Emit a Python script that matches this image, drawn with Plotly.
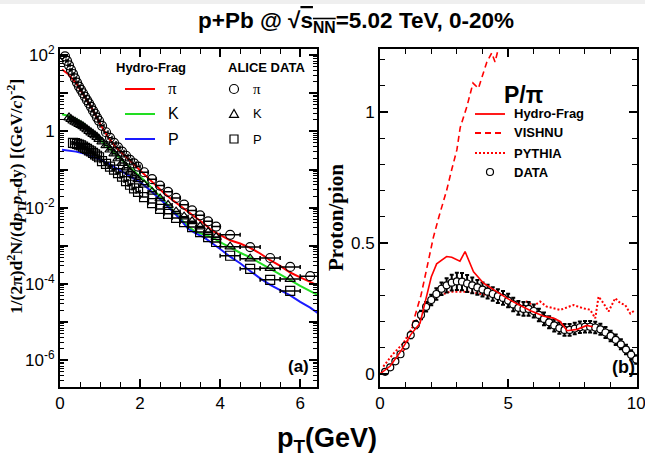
import plotly.graph_objects as go

W, H = 645, 462
SANS = "Liberation Sans, Arial, sans-serif"
SERIF = "Liberation Serif, Times New Roman, serif"

# ---------------- panel (a): identified-particle spectra ----------------
# ALICE bin centres and half widths (GeV)
pt_bins = [0.125, 0.175, 0.225, 0.275, 0.325, 0.375, 0.425, 0.475, 0.525, 0.575,
           0.625, 0.675, 0.725, 0.775, 0.825, 0.875, 0.925, 0.975,
           1.05, 1.15, 1.25, 1.35, 1.45, 1.55, 1.65, 1.75, 1.85, 1.95,
           2.1, 2.3, 2.5, 2.7, 2.9, 3.1, 3.3, 3.5, 3.7, 3.9,
           4.25, 4.75, 5.25, 5.75, 6.25]
pt_half = [0.025] * 18 + [0.05] * 10 + [0.1] * 10 + [0.25] * 5

pion_data = [93, 71, 54, 41, 32, 24.5, 19, 15, 12.3, 10,
             8.1, 6.6, 5.4, 4.4, 3.5, 2.9, 2.3, 1.9,
             1.4, 0.95, 0.68, 0.50, 0.38, 0.295, 0.23, 0.18, 0.145, 0.12,
             0.085, 0.056, 0.038, 0.026, 0.018, 0.012, 0.0085, 0.0063, 0.0044, 0.0032,
             0.00195, 9.3e-4, 4.8e-4, 2.8e-4, 1.6e-4]
kaon_data = [2.3, 2.1, 1.9, 1.78, 1.66, 1.55, 1.45, 1.35, 1.23, 1.12,
             1.02, 0.93, 0.85, 0.78, 0.71, 0.63,
             0.54, 0.43, 0.33, 0.26, 0.195, 0.148, 0.112, 0.087, 0.069, 0.055,
             0.040, 0.026, 0.0174, 0.0117, 0.0079, 0.0058, 0.0044, 0.0032, 0.0023, 0.0017,
             9.5e-4, 4.6e-4, 2.6e-4, 1.35e-4]
proton_data = [0.50, 0.49, 0.47, 0.45, 0.43, 0.40, 0.37, 0.35, 0.32, 0.30,
               0.275, 0.25, 0.23, 0.21,
               0.166, 0.141, 0.12, 0.10, 0.081, 0.065, 0.050, 0.040, 0.032, 0.026,
               0.019, 0.0132, 0.0093, 0.0069, 0.0054, 0.0042, 0.0031, 0.0023, 0.0017, 0.00126,
               5.5e-4, 2.5e-4, 1.29e-4, 6.6e-5]

# Hydro-Frag model curves
model_pt = [0.05, 0.2, 0.4, 0.6, 0.8, 1.0, 1.2, 1.4, 1.6, 1.8, 2.0, 2.2, 2.4, 2.6, 2.8,
            3.0, 3.2, 3.4, 3.6, 3.8, 4.0, 4.25, 4.5, 4.75, 5.0, 5.25, 5.5, 5.75, 6.0, 6.25, 6.45]
model_pion = [42, 32, 18.6, 8.9, 4.0, 1.58, 0.71, 0.38, 0.24, 0.151, 0.095, 0.060, 0.037,
              0.024, 0.0162, 0.0112, 0.0079, 0.0056, 0.0038, 0.0025, 0.0019, 0.0014, 0.00115,
              8.9e-4, 6.3e-4, 4.2e-4, 3.0e-4, 2.0e-4, 1.5e-4, 1.15e-4, 9.1e-5]
model_kaon = [2.82, 2.57, 2.14, 1.58, 0.93, 0.60, 0.39, 0.257, 0.166, 0.105, 0.066, 0.042,
              0.025, 0.0151, 0.0089, 0.0052, 0.0032, 0.0023, 0.0020, 0.0017, 0.00126, 8.9e-4,
              6.6e-4, 5.0e-4, 3.5e-4, 2.5e-4, 1.8e-4, 1.26e-4, 8.9e-5, 6.6e-5, 5.1e-5]
model_proton = [0.33, 0.316, 0.295, 0.263, 0.224, 0.182, 0.145, 0.11, 0.083, 0.063, 0.047,
                0.032, 0.021, 0.0135, 0.0083, 0.005, 0.0028, 0.0021, 0.00166, 0.0012, 8.3e-4,
                5.2e-4, 3.5e-4, 2.2e-4, 1.4e-4, 9.5e-5, 7.0e-5, 5.0e-5, 3.4e-5, 2.4e-5, 1.7e-5]

# ---------------- panel (b): proton / pion ratio ----------------
ratio_pt = [0.2, 0.4, 0.6, 0.8, 1.0, 1.2, 1.4, 1.6, 1.8, 2.0,
            2.2, 2.4, 2.6, 2.8, 3.0, 3.2, 3.4, 3.6, 3.8, 4.0,
            4.2, 4.4, 4.6, 4.8, 5.0, 5.2, 5.4, 5.6, 5.8, 6.0,
            6.2, 6.4, 6.6, 6.8, 7.0, 7.2, 7.4, 7.6, 7.8, 8.0,
            8.2, 8.4, 8.6, 8.8, 9.0, 9.2, 9.4, 9.6, 9.8, 10.0]
ratio_data = [0.008, 0.025, 0.048, 0.075, 0.108, 0.148, 0.188, 0.225, 0.256, 0.282,
              0.305, 0.325, 0.338, 0.348, 0.353, 0.352, 0.345, 0.338, 0.330, 0.322,
              0.314, 0.305, 0.297, 0.290, 0.280, 0.265, 0.252, 0.248, 0.248, 0.240,
              0.225, 0.210, 0.197, 0.185, 0.175, 0.168, 0.168, 0.173, 0.178, 0.180,
              0.180, 0.177, 0.170, 0.158, 0.145, 0.130, 0.113, 0.093, 0.073, 0.055]
ratio_err = [0.004, 0.005, 0.006, 0.008, 0.010, 0.012, 0.014, 0.016, 0.018, 0.020,
             0.022, 0.024, 0.027, 0.030, 0.033, 0.033, 0.032, 0.030, 0.028, 0.027,
             0.026, 0.026, 0.026, 0.026, 0.026, 0.026, 0.026, 0.026, 0.026, 0.025,
             0.024, 0.024, 0.023, 0.023, 0.022, 0.022, 0.022, 0.022, 0.022, 0.022,
             0.022, 0.022, 0.021, 0.021, 0.020, 0.020, 0.019, 0.018, 0.017, 0.016]

hydro_pt = [0.0, 0.4, 0.8, 1.2, 1.56, 1.82, 2.0, 2.21, 2.6, 2.8, 3.12, 3.32, 3.65, 4.04,
            4.56, 4.95, 5.4, 5.9, 6.4, 6.77, 7.03, 7.3, 7.7, 8.07, 8.3]
hydro_ratio = [0.0, 0.03, 0.085, 0.15, 0.193, 0.295, 0.37, 0.42, 0.448, 0.445, 0.43, 0.467,
               0.39, 0.346, 0.314, 0.289, 0.265, 0.24, 0.22, 0.213, 0.20, 0.165, 0.17, 0.185, 0.18]

vishnu_pt = [0.0, 0.5, 1.0, 1.3, 1.6, 1.82, 2.08, 2.3, 2.6, 2.8, 3.0, 3.13, 3.39, 3.63,
             3.84, 4.17, 4.36, 4.49, 4.69]
vishnu_ratio = [0.0, 0.03, 0.1, 0.2, 0.3, 0.4, 0.52, 0.6, 0.70, 0.78, 0.855, 0.94, 1.02,
                1.11, 1.09, 1.19, 1.225, 1.19, 1.27]

pythia_pt = [0.13, 0.5, 0.91, 1.43, 2.21, 2.73, 3.5, 4.43, 5.0, 5.47, 5.73, 6.0, 6.25, 6.5,
             7.03, 7.55, 7.94, 8.2, 8.4, 8.53, 8.72, 8.92, 9.18, 9.38, 9.57, 9.77, 9.96]
pythia_ratio = [0.028, 0.075, 0.117, 0.206, 0.295, 0.314, 0.314, 0.295, 0.28, 0.27, 0.276,
                0.26, 0.276, 0.257, 0.244, 0.263, 0.25, 0.245, 0.212, 0.295, 0.27, 0.238,
                0.289, 0.27, 0.263, 0.23, 0.244]

RED, GREEN, BLUE = "#ff0000", "#22dd22", "#1a1aff"


def px(x, y):
    """Pixel position -> paper coordinates."""
    return x / W, 1 - y / H


fig = go.Figure()

# model curves (panel a)
for ys, col in [(model_pion, RED), (model_kaon, GREEN), (model_proton, BLUE)]:
    fig.add_trace(go.Scatter(x=model_pt, y=ys, mode="lines", line=dict(color=col, width=2),
                             xaxis="x", yaxis="y", showlegend=False, hoverinfo="skip"))

# data points (panel a)
for xs, ys, sym in [(pt_bins, pion_data, "circle-open"),
                    (pt_bins[2:-1], kaon_data, "triangle-up-open"),
                    (pt_bins[4:-1], proton_data, "square-open")]:
    n = len(xs)
    off = pt_bins.index(xs[0])
    fig.add_trace(go.Scatter(
        x=xs, y=ys, mode="markers",
        marker=dict(symbol=sym, size=9, color="black", line=dict(width=1.2, color="black")),
        error_x=dict(type="data", array=pt_half[off:off + n], color="black",
                     thickness=1.5, width=2),
        xaxis="x", yaxis="y", showlegend=False))

# panel b curves
fig.add_trace(go.Scatter(x=vishnu_pt, y=vishnu_ratio, mode="lines",
                         line=dict(color=RED, width=1.6, dash="6px,4px"),
                         xaxis="x2", yaxis="y2", showlegend=False))
fig.add_trace(go.Scatter(x=pythia_pt, y=pythia_ratio, mode="lines",
                         line=dict(color=RED, width=2, dash="2px,2px"),
                         xaxis="x2", yaxis="y2", showlegend=False))
fig.add_trace(go.Scatter(
    x=ratio_pt, y=ratio_data, mode="markers",
    marker=dict(symbol="circle", size=7, color="white", line=dict(width=1.2, color="black")),
    error_y=dict(type="data", array=ratio_err, color="black", thickness=2, width=2),
    xaxis="x2", yaxis="y2", showlegend=False))
fig.add_trace(go.Scatter(x=hydro_pt, y=hydro_ratio, mode="lines",
                         line=dict(color=RED, width=1.6),
                         xaxis="x2", yaxis="y2", showlegend=False))

axis_common = dict(showline=True, linecolor="black", linewidth=2, mirror="allticks",
                   ticks="inside", ticklen=8, tickwidth=1.5, tickcolor="black",
                   showgrid=False, zeroline=False, ticklabeloverflow="allow",
                   automargin=False,
                   tickfont=dict(family=SANS, size=17, color="black"))

ylog_minor = [k * 10.0 ** e for e in range(-7, 3) for k in range(2, 10)]
decades = [10.0 ** e for e in range(-6, 3)]
decade_text = ["10<sup>-6</sup>", "", "10<sup>-4</sup>", "", "10<sup>-2</sup>", "", "1", "",
               "10<sup>2</sup>"]

fig.update_layout(
    width=W, height=H, margin=dict(l=0, r=0, t=0, b=0, autoexpand=False),
    paper_bgcolor="white", plot_bgcolor="white",
    xaxis=dict(domain=[60 / W, 317 / W], range=[0, 6.42], tickvals=[0, 2, 4, 6],
               minor=dict(dtick=0.5, tick0=0, ticks="inside", ticklen=5, tickcolor="black",
                          tickwidth=1.2), anchor="y", **axis_common),
    yaxis=dict(domain=[1 - 387 / H, 1 - 49 / H], type="log", range=[-6.7, 2.16],
               tickvals=decades, ticktext=decade_text,
               minor=dict(tickvals=ylog_minor, ticks="inside", ticklen=4, tickcolor="black",
                          tickwidth=1), anchor="x", **axis_common),
    xaxis2=dict(domain=[380 / W, 637 / W], range=[0, 10.03], tickvals=[0, 5, 10],
                minor=dict(dtick=1, tick0=0, ticks="inside", ticklen=5, tickcolor="black",
                           tickwidth=1.2), anchor="y2", **axis_common),
    yaxis2=dict(domain=[1 - 387 / H, 1 - 49 / H], range=[-0.05, 1.24],
                tickvals=[0, 0.5, 1], ticktext=["0", "0.5", "1"],
                minor=dict(dtick=0.1, tick0=0, ticks="inside", ticklen=5, tickcolor="black",
                           tickwidth=1.2), anchor="x2", **axis_common),
)

ann = []
shapes = []


def text(x, y, s, size, family=SANS, bold=False, xanchor="center", angle=0, color="black"):
    xp, yp = px(x, y)
    ann.append(dict(x=xp, y=yp, xref="paper", yref="paper", text=f"<b>{s}</b>" if bold else s,
                    showarrow=False, xanchor=xanchor, yanchor="middle", textangle=angle,
                    font=dict(family=family, size=size, color=color)))


def key_line(x0, x1, y, color, dash="solid", width=2):
    a, b = px(x0, y)
    c, _ = px(x1, y)
    shapes.append(dict(type="line", xref="paper", yref="paper", x0=a, x1=c, y0=b, y1=b,
                       line=dict(color=color, width=width, dash=dash)))


def key_marker(cx, cy, kind, r=4.5):
    line = dict(color="black", width=1.2)
    if kind == "circle":
        a, b = px(cx - r, cy + r)
        c, d = px(cx + r, cy - r)
        shapes.append(dict(type="circle", xref="paper", yref="paper", x0=a, y0=b, x1=c, y1=d,
                           line=line))
    elif kind == "square":
        a, b = px(cx - r + 0.5, cy + r - 0.5)
        c, d = px(cx + r - 0.5, cy - r + 0.5)
        shapes.append(dict(type="rect", xref="paper", yref="paper", x0=a, y0=b, x1=c, y1=d,
                           line=line))
    else:
        p1 = px(cx, cy - r)
        p2 = px(cx - r, cy + r * 0.75)
        p3 = px(cx + r, cy + r * 0.75)
        path = f"M {p1[0]},{p1[1]} L {p2[0]},{p2[1]} L {p3[0]},{p3[1]} Z"
        shapes.append(dict(type="path", xref="paper", yref="paper", path=path, line=line))


# title and axis titles
text(356, 22, "p+Pb @ √<span style='text-decoration:overline'>s<sub>NN</sub></span>"
              "=5.02 TeV, 0-20%", 22.5, bold=True)
text(327, 440, "p<sub>T</sub>(GeV)", 27, bold=True)
text(17, 197, "1/(2π)d<sup>2</sup>N/(d<i>p</i><sub>T</sub><i>p</i><sub>T</sub>dy) "
              "[(GeV/<i>c</i>)<sup>-2</sup>]", 17.5, family=SERIF, bold=True, angle=-90)
text(336, 218, "Proton/pion", 21, family=SERIF, bold=True, angle=-90)

# panel labels
text(311, 366, "(a)", 17, bold=True, xanchor="right")
text(637, 367, "(b)", 18, bold=True, xanchor="right")

# panel (a) legend
text(151, 67, "Hydro-Frag", 13, bold=True)
text(266, 67, "ALICE DATA", 13, bold=True)
for yy, col, lab, kind in [(89, RED, "π", "circle"), (114, GREEN, "K", "triangle"),
                           (139, BLUE, "P", "square")]:
    key_line(125, 155, yy, col)
    fam = SERIF if lab == "π" else SANS
    text(166, yy, lab, 17 if lab == "π" else 16, family=fam, xanchor="left")
    key_marker(234, yy, kind)
    text(251, yy, lab, 15 if lab == "π" else 13, family=fam, xanchor="left")

# panel (b) legend
text(502, 95, "P/π", 23, bold=True, xanchor="left")
for yy, dash, lab in [(114, "solid", "Hydro-Frag"), (133, "6px,4px", "VISHNU"),
                      (153, "2px,2px", "PYTHIA")]:
    key_line(475, 505, yy, RED, dash=dash, width=1.8)
    text(512, yy, lab, 13, bold=True, xanchor="left")
text(512, 172, "DATA", 13, bold=True, xanchor="left")
key_marker(490, 172, "circle", r=3.5)

# thin grey strip along the top edge
shapes.append(dict(type="rect", xref="paper", yref="paper", x0=0, x1=1, y0=1 - 4 / H, y1=1,
                   fillcolor="#efefef", line=dict(width=0), layer="below"))

fig.update_layout(annotations=ann, shapes=shapes)

fig.write_html("out.html")
